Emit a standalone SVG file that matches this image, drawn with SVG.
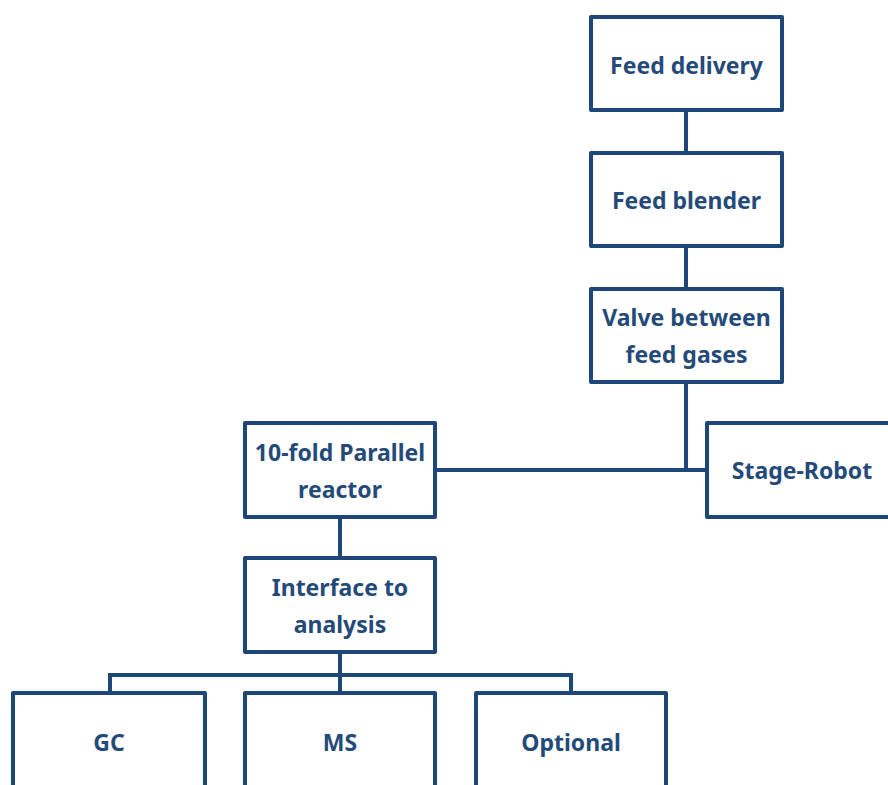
<svg xmlns="http://www.w3.org/2000/svg" width="888" height="785" viewBox="0 0 888 785">
<style>
.box{fill:#fff;stroke:#1f4678;stroke-width:4;stroke-linejoin:round;}
.ln{stroke:#1f4678;stroke-width:4;fill:none;}
text{font-family:"Noto Sans","Open Sans",sans-serif;font-weight:bold;font-size:23px;fill:#244a7a;text-anchor:middle;}
</style>
<rect width="888" height="785" fill="#fff"/>
<g id="connectors">
<line class="ln" x1="686" y1="110" x2="686" y2="153"/>
<line class="ln" x1="686" y1="246" x2="686" y2="289"/>
<polyline class="ln" points="686,382 686,470"/>
<line class="ln" x1="435" y1="470" x2="707" y2="470"/>
<line class="ln" x1="340" y1="517" x2="340" y2="558"/>
<line class="ln" x1="340" y1="652" x2="340" y2="693"/>
<polyline class="ln" points="110,693 110,675 571,675 571,693"/>
</g>
<g id="feed-delivery"><rect class="box" x="591" y="17" width="191" height="93"/><text x="686.5" y="74">Feed delivery</text></g>
<g id="feed-blender"><rect class="box" x="591" y="153" width="191" height="93"/><text x="686.5" y="209">Feed blender</text></g>
<g id="valve"><rect class="box" x="591" y="289" width="191" height="93"/><text x="686.5" y="326">Valve between</text><text x="686.5" y="363">feed gases</text></g>
<g id="stage-robot"><rect class="box" x="707" y="423" width="190" height="94"/><text x="802" y="479">Stage-Robot</text></g>
<g id="reactor"><rect class="box" x="245" y="423" width="190" height="94"/><text x="340" y="461">10-fold Parallel</text><text x="340" y="498">reactor</text></g>
<g id="interface"><rect class="box" x="245" y="558" width="190" height="94"/><text x="340" y="596">Interface to</text><text x="340" y="633">analysis</text></g>
<g id="gc"><rect class="box" x="13" y="693" width="192" height="100"/><text x="109" y="751">GC</text></g>
<g id="ms"><rect class="box" x="245" y="693" width="190" height="100"/><text x="340" y="751">MS</text></g>
<g id="optional"><rect class="box" x="476" y="693" width="190" height="100"/><text x="571" y="751">Optional</text></g>
</svg>
